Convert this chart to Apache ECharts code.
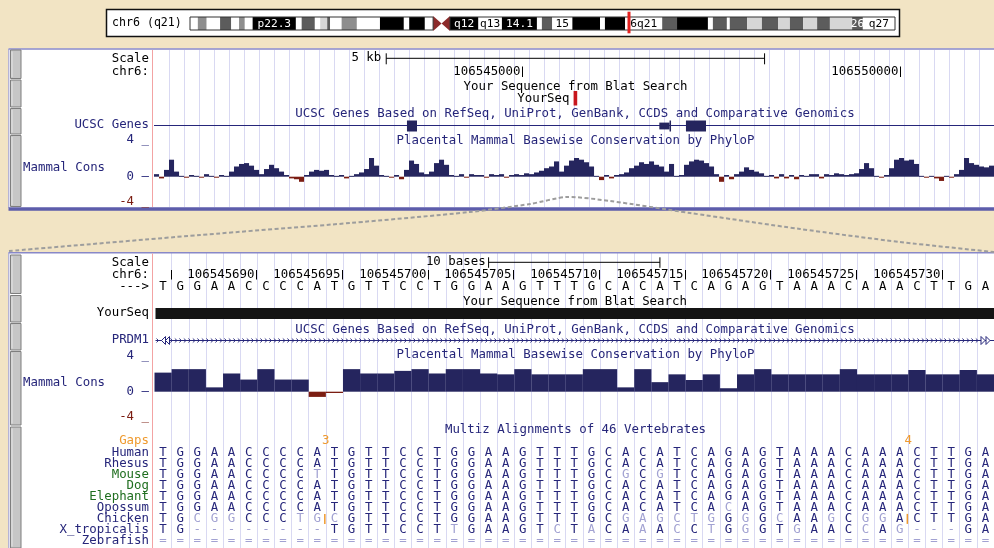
<!DOCTYPE html>
<html>
<head>
<meta charset="utf-8">
<script src="https://cdn.jsdelivr.net/npm/echarts@6/dist/echarts.min.js"></script>
<style>
html,body{margin:0;padding:0;background:#f2e4c4;}
#chart{width:994px;height:548px;}
</style>
</head>
<body>
<div id="chart"></div>
<script>
// ================= DATA =================
const chromLabel = 'chr6 (q21)';
const chromLengthMb = 171.1;
// [startMb, endMb, stain, label]
const ideoBands = [
  [0,1.9,'gneg',''],[1.9,4.05,'gpos50',''],[4.05,7.3,'gneg',''],[7.3,10.0,'gpos75',''],
  [10.0,11.9,'gneg',''],[11.9,13.3,'gpos50',''],[13.3,15.2,'gneg',''],[15.2,25.7,'gpos100','p22.3'],
  [25.7,27.1,'gneg',''],[27.1,30.3,'gpos75',''],[30.3,31.6,'gneg',''],[31.6,33.3,'gpos25',''],
  [33.3,34.0,'gpos75',''],[34.0,36.8,'gneg',''],[36.8,40.5,'gpos50',''],[40.5,46.1,'gneg',''],
  [46.1,51.9,'gpos100',''],[51.9,53.2,'gneg',''],[53.2,57.0,'gpos100',''],[57.0,59.0,'gneg',''],
  [59.0,61.05,'acen',''],[61.05,63.1,'acen',''],[63.1,70.0,'gpos100','q12'],[70.0,75.7,'gneg','q13'],
  [75.7,84.2,'gpos100','14.1'],[84.2,85.4,'gneg',''],[85.4,87.9,'gpos75',''],[87.9,92.8,'gneg','15'],
  [92.8,99.5,'gpos100',''],[99.5,100.7,'gneg',''],[100.7,105.6,'gpos100',''],[105.6,114.6,'gneg','6q21'],
  [114.6,118.2,'gpos75',''],[118.2,125.7,'gpos100',''],[125.7,126.9,'gneg',''],[126.9,130.3,'gpos75',''],
  [130.3,131.0,'gneg',''],[131.0,135.2,'gpos75',''],[135.2,138.8,'gpos25',''],[138.8,142.7,'gpos75',''],
  [142.7,145.6,'gpos25',''],[145.6,148.8,'gpos75',''],[148.8,152.2,'gpos25',''],[152.2,155.3,'gpos75',''],
  [155.3,160.7,'gpos25',''],[160.7,163.3,'gpos75','26'],[163.3,171.1,'gneg','q27']
];
const chromArms = [[0,59.0],[63.1,171.1]];
const highlightMb = [106.545];

// Upper (zoomed-out) window, genomic coordinates
const upperRange = [106540141, 106551242];
const upperScaleBar = [106543210, 106548210];
const upperScaleLabel = ['5 kb'];
const upperTicks = [106545000, 106550000];
const upperTickLabels = ['106545000', '106550000'];
const upperYourSeq = [[106545686, 106545734]];
// [start, end, kind]
const upperExons = [
  [106543484,106543617,'cds'],[106546819,106546954,'utr'],[106546954,106546973,'cds'],[106547171,106547436,'cds']
];
// Upper PhyloP (168 bins across the window)
const upperCons = [
  0.3,-0.2,0.8,2.0,0.6,0.1,-0.1,0.2,0.1,-0.1,0.3,0.1,-0.1,0.2,0.1,0.6,1.2,1.5,1.6,1.3,
  0.8,0.3,0.9,1.4,1.0,0.6,0.2,-0.2,-0.3,-0.6,0.2,0.6,0.8,0.7,0.8,0.2,0.1,0.2,-0.2,0.1,
  0.3,0.5,0.9,2.2,1.3,0.2,0.1,-0.1,0.2,-0.3,0.8,1.9,1.5,0.5,0.3,0.6,1.6,2.0,1.4,0.2,
  0.1,0.3,-0.1,0.3,0.2,0.2,-0.1,0.3,0.2,0.3,-0.1,0.2,0.3,0.2,0.4,0.3,0.5,0.7,1.0,1.2,
  1.8,0.6,1.3,1.9,2.2,2.0,1.7,1.2,0.1,-0.4,0.2,-0.2,0.2,0.3,0.5,1.0,1.3,1.7,1.5,1.8,
  1.4,1.2,0.6,1.5,0.1,0.2,1.4,1.8,2.0,1.9,1.6,1.2,0.3,-0.6,0.2,-0.3,0.3,0.6,1.1,0.8,
  0.6,0.4,0.1,0.2,-0.2,0.3,-0.2,0.2,-0.3,0.2,0.1,0.3,0.3,-0.2,0.3,0.2,0.4,0.3,0.2,0.3,
  0.4,0.9,1.6,1.0,0.1,-0.1,0.2,1.0,2.0,2.2,1.9,2.0,1.5,0.1,-0.1,0.1,-0.2,-0.5,0.1,-0.1,
  0.3,0.8,2.2,1.6,1.4,1.2,1.1,1.3
];

// Lower (base-level) window
const lowerStart = 106545685;
const refBases = 'TGGAACCCCATGTTCCTGGAAGTTTGCACATCAGAGTAAACAAACTTGA'.split('');
const lowerTicks = [106545685,106545690,106545695,106545700,106545705,106545710,106545715,106545720,106545725,106545730];
const lowerTickLabels = ['','106545690','106545695','106545700','106545705','106545710','106545715','106545720','106545725','106545730'];
const lowerScaleBar = [19.5, 29.5];
const lowerScaleLabel = ['10 bases'];
const lowerCons = [
  2.2,2.6,2.6,0.5,2.1,1.4,2.6,1.4,1.4,-0.6,
  -0.15,2.6,2.1,2.1,2.4,2.6,2.1,2.6,2.6,2.1,
  2.0,2.6,2.0,2.0,2.0,2.6,2.6,0.5,2.6,1.1,
  2.0,1.35,2.0,0.4,2.0,2.6,2.0,2.0,2.0,2.0,
  2.6,2.0,2.0,2.0,2.5,2.0,2.0,2.5,2.0
];
const species = ['Human','Rhesus','Mouse','Dog','Elephant','Opossum','Chicken','X_tropicalis','Zebrafish'];
const speciesGroup = ['primate','primate','placental','placental','placental','mammal','vertebrate','vertebrate','vertebrate'];
const alignments = [
  'TGGAACCCCATGTTCCTGGAAGTTTGCACATCAGAGTAAACAAACTTGA',
  'TGGAACCCCATGTTCCTGGAAGTTTGCACATCAGAGTAAACAAACTTGA',
  'TGGAACCCCTTGTTCCTGGAAGTTTGCGCGTCAGAGTAAACAAACTTGA',
  'TGGAACCCCATGTTCCTGGAAGTTTGCACATCAGAGTAAACAAACTTGA',
  'TGGAACCCCATGTTCCTGGAAGTTTGCACATCAGAGTAAACAAACTTGA',
  'TGGAACCCCATGTTCCTGGAAGTTTGCACATCACAGTAAACAAACTTGA',
  'TGCGGCCCTGCGTTCCTGGAAGTTTGCGAGCTGGGGCAAGCGGACTTGA',
  'TG--------TGTTCCTTGAAGTCTACAAACCTGGGTGAACCAG---GA',
  '================================================='
];
const gapCols = [10, 44];
const gapSizes = ['3', '4'];
const gapSpecies = ['Chicken', 'Chicken'];

// ================= STYLE / LAYOUT =================
const FF = '"DejaVu Sans Mono","Liberation Mono",monospace';
const F = '12.4px ' + FF;
const IDEO_F = '11.2px ' + FF;
const NAVY = '#26267a';
const BARC = '#25255e';
const NEG = '#7b1d12';
const LIGHT = '#a2a2d2';
const GREEN = '#1f6e1f';
const ORANGE = '#ef9a2e';
const GUIDE = '#d9d9f2';
const stainColor = {gneg:'#ffffff', gpos25:'#d6d6d6', gpos50:'#8e8e8e', gpos75:'#5c5c5c', gpos100:'#000000', acen:'#8b2a2a'};
const groupColor = {primate:NAVY, placental:GREEN, mammal:NAVY, vertebrate:NAVY};
const rowY0 = 452.3, rowStep = 11.1;

function T(text, x, y, fill, align, font) {
  return {type:'text', style:{text:text, x:x, y:y, fill:fill||'#000', font:font||F,
    align:align||'left', verticalAlign:'middle', textAlign:align||'left', textVerticalAlign:'middle'}};
}
function L(x1,y1,x2,y2,color,w){ return {type:'line', shape:{x1,y1,x2,y2}, style:{stroke:color, lineWidth:w||1}}; }

const chart = echarts.init(document.getElementById('chart'), null, {width:994, height:548});

const hiddenAxis = (extra) => Object.assign({type:'value', axisLine:{show:false}, axisTick:{show:false}, axisLabel:{show:false}, splitLine:{show:false}}, extra);

const grids = [
  {left:190, top:17, width:705, height:13},            // 0 ideogram
  {left:154, top:50, width:840, height:157},           // 1 upper guides
  {left:154, top:142.7, width:840, height:68},         // 2 upper conservation
  {left:154, top:0, width:840, height:548},            // 3 upper features (genomic x, pixel y)
  {left:154.5, top:253, width:842.3, height:295},      // 4 lower guides/features
  {left:154.5, top:357, width:842.3, height:69.4}      // 5 lower conservation
];
const xAxes = [
  hiddenAxis({gridIndex:0, min:0, max:chromLengthMb}),
  hiddenAxis({gridIndex:1, min:0, max:168, interval:3, splitLine:{show:true, showMinLine:false, showMaxLine:false, lineStyle:{color:GUIDE, width:1}}}),
  hiddenAxis({gridIndex:2, min:0, max:168}),
  hiddenAxis({gridIndex:3, min:upperRange[0], max:upperRange[1]}),
  hiddenAxis({gridIndex:4, min:0, max:49, interval:1, splitLine:{show:true, showMinLine:false, showMaxLine:false, lineStyle:{color:GUIDE, width:1}}}),
  hiddenAxis({gridIndex:5, min:0, max:49})
];
const yAxes = [
  hiddenAxis({gridIndex:0, min:0, max:1}),
  hiddenAxis({gridIndex:1, min:0, max:1}),
  hiddenAxis({gridIndex:2, min:-4, max:4}),
  hiddenAxis({gridIndex:3, min:0, max:548, inverse:true}),
  hiddenAxis({gridIndex:4, min:253, max:548, inverse:true}),
  hiddenAxis({gridIndex:5, min:-4, max:4})
];

const series = [];
// ---- Ideogram bands
series.push({type:'custom', xAxisIndex:0, yAxisIndex:0, z:3, silent:true,
  data: ideoBands.map((b,i)=>[b[0], b[1], i]),
  renderItem(params, api){
    const i = api.value(2), b = ideoBands[i];
    const p0 = api.coord([b[0],1]), p1 = api.coord([b[1],0]);
    const x0=p0[0], x1=p1[0], y0=p0[1], y1=p1[1], ym=(y0+y1)/2;
    const ch = [];
    if (b[2]==='acen') {
      const first = i===0 || ideoBands[i-1][2] !== 'acen';
      const pts = first ? [[x0,y0-1],[x1,ym],[x0,y1+1]] : [[x1,y0-1],[x0,ym],[x1,y1+1]];
      ch.push({type:'polygon', shape:{points:pts}, style:{fill:stainColor.acen}});
    } else {
      ch.push({type:'rect', shape:{x:x0, y:y0, width:x1-x0, height:y1-y0}, style:{fill:stainColor[b[2]]}});
    }
    if (b[3]) {
      const dark = b[2]==='gpos100' || b[2]==='gpos75';
      ch.push(T(b[3], (x0+x1)/2, ym+0.5, dark?'#fff':'#000', 'center', IDEO_F));
    }
    return {type:'group', children:ch};
  }});
// ---- Ideogram arm outlines
series.push({type:'custom', xAxisIndex:0, yAxisIndex:0, z:4, silent:true,
  data: chromArms,
  renderItem(params, api){
    const p0 = api.coord([api.value(0),1]), p1 = api.coord([api.value(1),0]);
    return {type:'rect', shape:{x:p0[0], y:p0[1], width:p1[0]-p0[0], height:p1[1]-p0[1]}, style:{fill:null, stroke:'#333', lineWidth:1}};
  }});
// ---- Ideogram highlight
series.push({type:'custom', xAxisIndex:0, yAxisIndex:0, z:5, silent:true,
  data: highlightMb.map(v=>[v,0.5]),
  renderItem(params, api){
    const p = api.coord([api.value(0), 1]), q = api.coord([api.value(0), 0]);
    return {type:'rect', shape:{x:p[0]-1.5, y:p[1]-5.3, width:3, height:(q[1]-p[1])+8.6}, style:{fill:'#e3201e'}};
  }});

// ---- Upper conservation
function consRenderer(params, api){
  const i = api.value(0), v = api.value(1);
  const a = api.coord([i, 0]), b = api.coord([i+1, v]);
  let y = Math.min(a[1], b[1]), h = Math.abs(a[1]-b[1]);
  if (h < 1) h = 1;
  return {type:'rect', shape:{x:a[0], y:y, width:b[0]-a[0]+0.05, height:h}, style:{fill: v>=0 ? BARC : NEG}};
}
series.push({type:'custom', xAxisIndex:2, yAxisIndex:2, z:3, silent:true,
  data: upperCons.map((v,i)=>[i,v]), renderItem: consRenderer});

// ---- Upper features
series.push({type:'custom', xAxisIndex:3, yAxisIndex:3, z:3, silent:true,
  data: [upperScaleBar],
  renderItem(params, api){
    const y = 58.3;
    const a = api.coord([api.value(0), y]), b = api.coord([api.value(1), y]);
    return {type:'group', children:[
      L(a[0], y, b[0], y, '#000', 1), L(a[0], y-5, a[0], y+6, '#000', 1), L(b[0], y-5, b[0], y+6, '#000', 1),
      T(upperScaleLabel[0], a[0]-5, y-0.5, '#000', 'right')
    ]};
  }});
series.push({type:'custom', xAxisIndex:3, yAxisIndex:3, z:3, silent:true,
  data: upperTicks.map((t,i)=>[t, i]),
  renderItem(params, api){
    const y = 71.5;
    const p = api.coord([api.value(0), y]);
    const x = Math.round(p[0]) + 0.5;
    return {type:'group', children:[
      L(x, y-5, x, y+5.5, '#000', 1),
      T(upperTickLabels[api.value(1)], x-2, y, '#000', 'right')
    ]};
  }});
series.push({type:'custom', xAxisIndex:3, yAxisIndex:3, z:3, silent:true,
  data: upperYourSeq,
  renderItem(params, api){
    const a = api.coord([api.value(0), 91]), b = api.coord([api.value(1), 105.5]);
    return {type:'rect', shape:{x:a[0], y:a[1], width:Math.max(3, b[0]-a[0]), height:b[1]-a[1]}, style:{fill:'#c8161d'}};
  }});
series.push({type:'custom', xAxisIndex:3, yAxisIndex:3, z:3, silent:true,
  data: [upperRange],
  renderItem(params, api){
    const y = 125.5;
    const a = api.coord([api.value(0), y]), b = api.coord([api.value(1), y]);
    return L(a[0], y, b[0], y, NAVY, 1.2);
  }});
series.push({type:'custom', xAxisIndex:3, yAxisIndex:3, z:4, silent:true,
  data: upperExons.map((e,i)=>[e[0], e[1], i]),
  renderItem(params, api){
    const e = upperExons[api.value(2)];
    const half = e[2]==='cds' ? 5.5 : 3.4;
    const a = api.coord([e[0], 126 - half]), b = api.coord([e[1], 126 + half]);
    return {type:'rect', shape:{x:a[0], y:a[1], width:Math.max(1.5, b[0]-a[0]), height:b[1]-a[1]}, style:{fill:BARC}};
  }});

// ---- Lower features (column coordinates)
series.push({type:'custom', xAxisIndex:4, yAxisIndex:4, z:3, silent:true,
  data: [lowerScaleBar],
  renderItem(params, api){
    const y = 262.3;
    const a = api.coord([api.value(0), y]), b = api.coord([api.value(1), y]);
    return {type:'group', children:[
      L(a[0], y, b[0], y, '#000', 1), L(a[0], y-5, a[0], y+5.5, '#000', 1), L(b[0], y-5, b[0], y+5.5, '#000', 1),
      T(lowerScaleLabel[0], a[0]-3, y-0.5, '#000', 'right')
    ]};
  }});
series.push({type:'custom', xAxisIndex:4, yAxisIndex:4, z:3, silent:true,
  data: lowerTicks.map((t,i)=>[t - lowerStart + 1, i]),
  renderItem(params, api){
    const y = 275;
    const p = api.coord([api.value(0), y]);
    const x = Math.round(p[0]) - 0.5;
    const ch = [L(x, y-5, x, y+4.5, '#000', 1)];
    const lab = lowerTickLabels[api.value(1)];
    if (lab) ch.push(T(lab, x-2, y, '#000', 'right'));
    return {type:'group', children:ch};
  }});
series.push({type:'custom', xAxisIndex:4, yAxisIndex:4, z:3, silent:true,
  data: refBases.map((b,i)=>[i, 286.7]),
  renderItem(params, api){
    const i = api.value(0);
    const p = api.coord([i+0.5, 286.7]);
    return T(refBases[i], p[0], p[1], '#000', 'center');
  }});
series.push({type:'custom', xAxisIndex:4, yAxisIndex:4, z:3, silent:true,
  data: [[0, refBases.length]],
  renderItem(params, api){
    const a = api.coord([api.value(0), 308]), b = api.coord([api.value(1), 319]);
    return {type:'rect', shape:{x:a[0]+1, y:a[1], width:b[0]-a[0], height:b[1]-a[1]}, style:{fill:'#141414'}};
  }});
// PRDM1 gene model (+ strand, extends beyond both edges)
series.push({type:'custom', xAxisIndex:4, yAxisIndex:4, z:3, silent:true,
  data: [[0, refBases.length]],
  renderItem(params, api){
    const y = 340.5;
    const a = api.coord([api.value(0), y]), b = api.coord([api.value(1), y]);
    const x0 = a[0] + 1, x1 = 994;
    const ch = [L(x0, y, x1, y, NAVY, 1)];
    for (let x = x0 + 16; x < x1 - 14; x += 4.5) {
      ch.push({type:'polyline', shape:{points:[[x-1.2,y-2],[x+1,y],[x-1.2,y+2]]}, style:{stroke:NAVY, lineWidth:0.9, fill:null}});
    }
    ch.push({type:'polyline', shape:{points:[[x0+1,y-2],[x0+3,y],[x0+1,y+2]]}, style:{stroke:NAVY, lineWidth:0.9, fill:null}});
    [x0+6, x0+10].forEach(xx => ch.push({type:'polygon', shape:{points:[[xx,y],[xx+4,y-4],[xx+4,y+4]]}, style:{stroke:NAVY, fill:'#fff', lineWidth:1}}));
    [x1-13, x1-8].forEach(xx => ch.push({type:'polygon', shape:{points:[[xx+4,y],[xx,y-4],[xx,y+4]]}, style:{stroke:NAVY, fill:'#fff', lineWidth:1}}));
    return {type:'group', children:ch};
  }});
// Alignment letters
const alignData = [];
alignments.forEach((row, r) => row.split('').forEach((c, i) => alignData.push([i, r])));
series.push({type:'custom', xAxisIndex:4, yAxisIndex:4, z:3, silent:true,
  data: alignData,
  renderItem(params, api){
    const i = api.value(0), r = api.value(1);
    const c = alignments[r][i];
    const ref = alignments[0][i];
    let col = NAVY;
    if (c === '=' || c === '-') col = LIGHT;
    else if (r > 0 && c !== ref) col = LIGHT;
    const p = api.coord([i+0.5, 300]);
    return T(c, p[0], rowY0 + r*rowStep, col, 'center');
  }});
// Gap / insertion markers
series.push({type:'custom', xAxisIndex:4, yAxisIndex:4, z:4, silent:true,
  data: gapCols.map((c,i)=>[c, i]),
  renderItem(params, api){
    const k = api.value(1);
    const p = api.coord([api.value(0), 300]);
    const r = species.indexOf(gapSpecies[k]);
    const yy = rowY0 + r*rowStep;
    return {type:'group', children:[
      T(gapSizes[k], p[0], 440.7, ORANGE, 'center'),
      L(p[0]-1, yy-5, p[0]-1, yy+5, ORANGE, 1.5)
    ]};
  }});
// Lower conservation
series.push({type:'custom', xAxisIndex:5, yAxisIndex:5, z:3, silent:true,
  data: lowerCons.map((v,i)=>[i,v]), renderItem: consRenderer});

// ================= GRAPHIC (panels, labels) =================
const G = [];
const rect = (x,y,w,h,style,z) => ({type:'rect', shape:{x,y,width:w,height:h}, style, z:(z===undefined?-5:z), silent:true});
const gtext = (text,x,y,fill,align,font,z) => ({type:'text', z:(z===undefined?10:z), silent:true, style:{text, x, y, fill:fill||'#000', font:font||F, align:align||'left', verticalAlign:'middle', textAlign:align||'left', textVerticalAlign:'middle'}});
const gline = (x1,y1,x2,y2,color,w,z) => ({type:'line', shape:{x1,y1,x2,y2}, style:{stroke:color, lineWidth:w||1}, z:(z===undefined?1:z), silent:true});

// ideogram frame
G.push(rect(106.5, 9.5, 793, 27, {fill:'#fff', stroke:'#111', lineWidth:1.5}));
G.push(gtext(chromLabel, 112, 22.5, '#000', 'left', '11.6px ' + FF));
// upper panel
G.push(rect(8.5, 48.5, 986, 160, {fill:'#fff'}));
G.push(gline(8.5, 49, 994, 49, '#8888c8', 1.5, 2));
G.push(gline(8.8, 49, 8.8, 208, '#9a9ad0', 1, 2));
G.push(rect(8.5, 207.3, 986, 3.4, {fill:'#5d5dab'}, 6));
// lower panel
G.push(rect(8.5, 252, 986, 296, {fill:'#fff'}));
G.push(gline(8.5, 252.7, 994, 252.7, '#8888c8', 1.5, 2));
G.push(gline(8.8, 252.7, 8.8, 548, '#9a9ad0', 1, 2));
// red separators
G.push(gline(152.5, 50, 152.5, 207, '#f3a3a3', 1, 2));
G.push(gline(152.5, 253.5, 152.5, 548, '#f3a3a3', 1, 2));
// side buttons
[[50,78.5],[80,107],[108.5,134],[135.5,206.5],[255,293.5],[295.5,322],[323.5,350],[351.5,425],[427,548]].forEach(b => {
  G.push(rect(10.5, b[0], 10.5, b[1]-b[0], {fill:'#c6c6c6', stroke:'#7e7e7e', lineWidth:1}, 2));
  G.push(gline(12, b[0]+1.5, 12, b[1]-1.5, '#e6e6e6', 1, 3));
});
// dashed zoom lines
G.push({type:'polyline', z:7, silent:true, shape:{smooth:0.25, points:[[9,251],[200,235],[350,223],[470,212],[530,204],[567,197],[610,201],[690,213],[800,229],[900,242],[994,252]]},
  style:{stroke:'#9d9d9d', lineWidth:2, lineDash:[4,2.5], fill:null}});

// upper labels
G.push(gtext('Scale', 149, 58.3, '#000', 'right'));
G.push(gtext('chr6:', 149, 71.7, '#000', 'right'));
G.push(gtext('Your Sequence from Blat Search', 575.5, 86.7, '#000', 'center'));
G.push(gtext('YourSeq', 569.5, 98.5, '#000', 'right'));
G.push(gtext('UCSC Genes Based on RefSeq, UniProt, GenBank, CCDS and Comparative Genomics', 575, 114, NAVY, 'center'));
G.push(gtext('UCSC Genes', 149, 124.3, NAVY, 'right'));
G.push(gtext('Placental Mammal Basewise Conservation by PhyloP', 575.5, 140.7, NAVY, 'center'));
G.push(gtext('4 _', 149, 139.5, NAVY, 'right'));
G.push(gtext('Mammal Cons', 23, 167.7, NAVY, 'left'));
G.push(gtext('0 \u2013', 149, 176.7, NAVY, 'right'));
G.push(gtext('-4 _', 149, 201.5, NEG, 'right'));
// lower labels
G.push(gtext('Scale', 149, 262.3, '#000', 'right'));
G.push(gtext('chr6:', 149, 275, '#000', 'right'));
G.push(gtext('--->', 149, 286.7, '#000', 'right'));
G.push(gtext('Your Sequence from Blat Search', 575, 301.7, '#000', 'center'));
G.push(gtext('YourSeq', 149, 312.3, '#000', 'right'));
G.push(gtext('UCSC Genes Based on RefSeq, UniProt, GenBank, CCDS and Comparative Genomics', 575, 329.3, NAVY, 'center'));
G.push(gtext('PRDM1', 149, 340, NAVY, 'right'));
G.push(gtext('4 _', 149, 355.5, NAVY, 'right'));
G.push(gtext('Placental Mammal Basewise Conservation by PhyloP', 575.5, 355, NAVY, 'center'));
G.push(gtext('Mammal Cons', 23, 382.3, NAVY, 'left'));
G.push(gtext('0 \u2013', 149, 391.7, NAVY, 'right'));
G.push(gtext('-4 _', 149, 416.3, NEG, 'right'));
G.push(gtext('Multiz Alignments of 46 Vertebrates', 575.5, 430, NAVY, 'center'));
G.push(gtext('Gaps', 149, 440.7, ORANGE, 'right'));
species.forEach((s, r) => G.push(gtext(s, 149, rowY0 + r*rowStep, groupColor[speciesGroup[r]], 'right')));

chart.setOption({
  backgroundColor: '#f2e4c4',
  animation: false,
  grid: grids, xAxis: xAxes, yAxis: yAxes,
  series: series,
  graphic: {elements: G}
});
</script>
</body>
</html>
